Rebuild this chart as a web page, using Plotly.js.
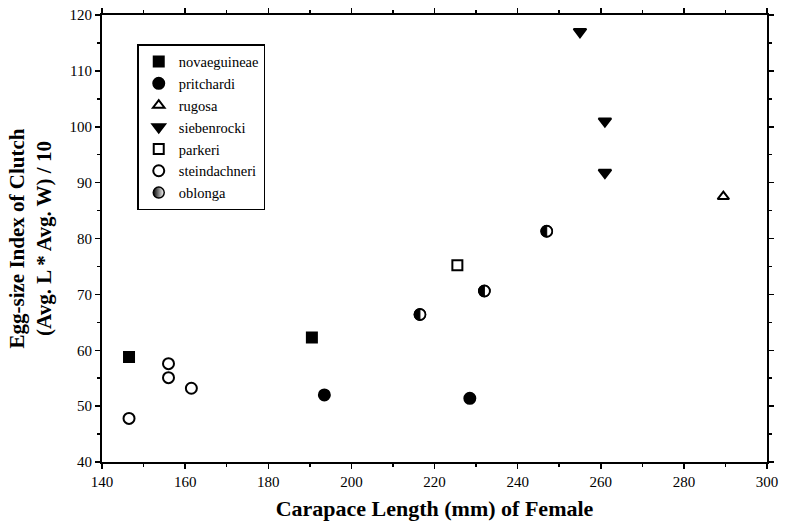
<!DOCTYPE html>
<html><head><meta charset="utf-8">
<script src="https://cdn.plot.ly/plotly-3.0.1.min.js"></script>
<style>html,body{margin:0;padding:0;background:#fff}#chart{width:788px;height:525px}</style>
</head><body><div id="chart"></div>
<script>
const novaeguineaeX = [146.5, 190.5];
const novaeguineaeY = [58.8, 62.3];
const pritchardiX = [193.5, 228.5];
const pritchardiY = [52.0, 51.4];
const rugosaX = [289.5];
const rugosaY = [87.5];
const siebenrockiX = [255, 261, 261];
const siebenrockiY = [117, 101, 91.8];
const parkeriX = [225.5];
const parkeriY = [75.2];
const steindachneriX = [146.5, 156, 156, 161.5];
const steindachneriY = [47.8, 57.6, 55.1, 53.2];
const oblongaX = [216.5, 232, 247];
const oblongaY = [66.4, 70.6, 81.3];

const black = '#000';
const FAM = 'Liberation Serif';
function tr(name, x, y, symbol, size) {
  return {
    type: 'scatter', mode: 'markers', name: name, x: x, y: y,
    marker: {symbol: symbol, size: size, color: black, line: {color: black, width: 2}}
  };
}
const traces = [
  tr('novaeguineae', novaeguineaeX, novaeguineaeY, 'square', 10),
  tr('pritchardi', pritchardiX, pritchardiY, 'circle', 11),
  tr('rugosa', rugosaX, rugosaY, 'triangle-up-open', 10),
  tr('siebenrocki', siebenrockiX, siebenrockiY, 'triangle-down', 11),
  tr('parkeri', parkeriX, parkeriY, 'square-open', 10),
  tr('steindachneri', steindachneriX, steindachneriY, 'circle-open', 11),
  {type: 'scatter', mode: 'markers', name: 'oblonga', x: oblongaX, y: oblongaY,
   marker: {symbol: 'circle', size: 11, color: black,
            gradient: {type: 'horizontal', color: '#fff'},
            line: {color: black, width: 1.5}}}
];

// half-filled circle glyphs for oblonga, anchored at data points (pixel-sized)
const r = 5.5, k = 0.5523 * r;
const fullCircle = `M0,${-r} C${-k},${-r} ${-r},${-k} ${-r},0 C${-r},${k} ${-k},${r} 0,${r} C${k},${r} ${r},${k} ${r},0 C${r},${-k} ${k},${-r} 0,${-r} Z`;
const leftHalf = `M0,${-r} C${-k},${-r} ${-r},${-k} ${-r},0 C${-r},${k} ${-k},${r} 0,${r} Z`;
const shapes = [];
oblongaX.forEach((xv, i) => {
  const base = {type: 'path', xref: 'x', yref: 'y', xsizemode: 'pixel', ysizemode: 'pixel',
                xanchor: xv, yanchor: oblongaY[i], layer: 'above'};
  shapes.push(Object.assign({}, base, {path: fullCircle, fillcolor: '#fff', line: {color: black, width: 1.8}}));
  shapes.push(Object.assign({}, base, {path: leftHalf, fillcolor: black, line: {color: black, width: 1}}));
});

const font = {family: FAM, color: black};
function axisBase() {
  return {
    showgrid: false, zeroline: false, showline: true, linecolor: black, linewidth: 2,
    mirror: 'ticks', ticks: 'outside', ticklen: 5, tickwidth: 1.5, tickcolor: black,
    tickfont: {family: FAM, color: black, size: 15}
  };
}
const layout = {
  width: 788, height: 525,
  margin: {l: 102, r: 21, t: 15, b: 63},
  paper_bgcolor: '#fff', plot_bgcolor: '#fff',
  font: font,
  showlegend: true,
  shapes: shapes,
  legend: {
    x: 0.053, y: 0.935, xanchor: 'left', yanchor: 'top',
    bordercolor: black, borderwidth: 1.5, bgcolor: '#fff',
    font: {family: FAM, color: black, size: 14.5}, itemwidth: 30
  },
  xaxis: Object.assign(axisBase(), {
    range: [140, 300], dtick: 20, tick0: 140,
    minor: {dtick: 10, ticks: 'outside', ticklen: 3, tickcolor: black},
    title: {text: '<b>Carapace Length (mm) of Female</b>', font: {family: FAM, color: black, size: 22}, standoff: 12}
  }),
  yaxis: Object.assign(axisBase(), {
    range: [40, 120], dtick: 10, tick0: 40,
    minor: {dtick: 5, ticks: 'outside', ticklen: 3, tickcolor: black},
    title: {text: '<b>Egg-size Index of Clutch<br>(Avg. L * Avg. W) / 10</b>', font: {family: FAM, color: black, size: 21}, standoff: 12}
  })
};
Plotly.newPlot('chart', traces, layout, {displayModeBar: false, staticPlot: true});
</script></body></html>
